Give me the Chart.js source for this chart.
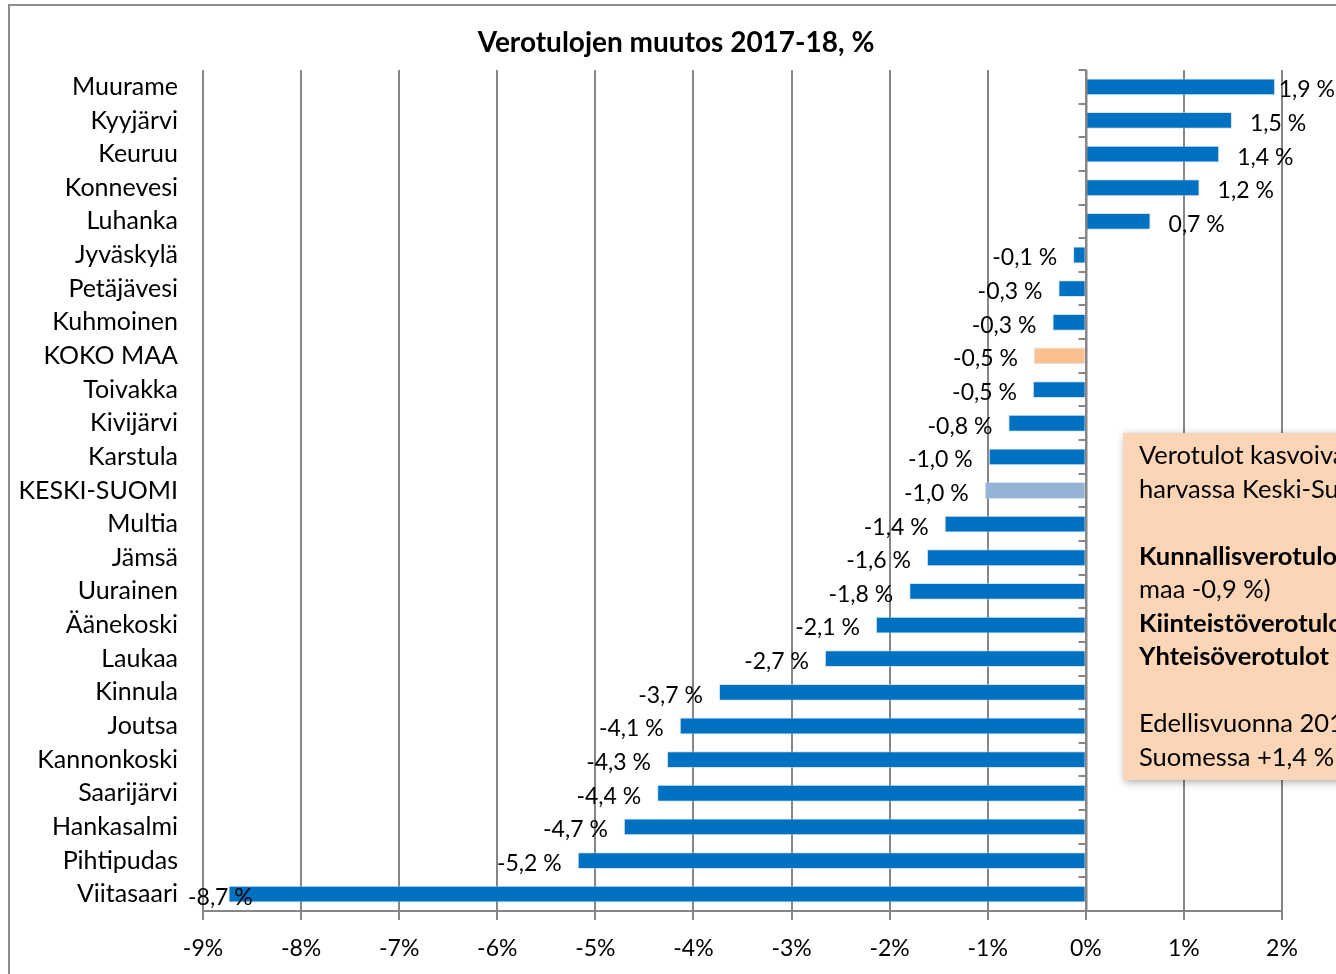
<!DOCTYPE html>
<html lang="fi">
<head>
<meta charset="UTF-8">
<title>Verotulojen muutos 2017-18, %</title>
<script src="https://cdn.jsdelivr.net/npm/chart.js"></script>
<style>
  html, body { margin: 0; padding: 0; background: #fff; overflow: hidden; }
  #wrap { position: relative; width: 1336px; height: 974px; }
</style>
</head>
<body>
<div id="wrap"><canvas id="myChart" width="1336" height="974"></canvas></div>

<script type="text/javascript">
    // data
    const categories = ['Muurame', 'Kyyjärvi', 'Keuruu', 'Konnevesi', 'Luhanka', 'Jyväskylä', 'Petäjävesi',
        'Kuhmoinen', 'KOKO MAA', 'Toivakka', 'Kivijärvi', 'Karstula', 'KESKI-SUOMI', 'Multia', 'Jämsä',
        'Uurainen', 'Äänekoski', 'Laukaa', 'Kinnula', 'Joutsa', 'Kannonkoski', 'Saarijärvi', 'Hankasalmi',
        'Pihtipudas', 'Viitasaari'];
    const changePct = [1.93, 1.49, 1.36, 1.16, 0.66, -0.13, -0.28, -0.34, -0.53, -0.54, -0.79, -0.99, -1.03,
        -1.44, -1.62, -1.80, -2.14, -2.66, -3.74, -4.14, -4.27, -4.37, -4.71, -5.18, -8.74];
    const xTicks = [-9, -8, -7, -6, -5, -4, -3, -2, -1, 0, 1, 2];

    const titleText = 'Verotulojen muutos 2017-18, %';
    const noteLines = [
        ['Verotulot kasvoivat vain', false],
        ['harvassa Keski-Suomen kunnassa.', false],
        ['', false],
        ['Kunnallisverotulot', true],
        ['maa -0,9 %)', false],
        ['Kiinteistöverotulot', true],
        ['Yhteisöverotulot', true],
        ['', false],
        ['Edellisvuonna 2016-17', false],
        ['Suomessa +1,4 %', false]
    ];

    const FONT = 'Lato, "Open Sans", sans-serif';

    const barColors = categories.map(function (c) {
        if (c === 'KOKO MAA') return '#FAC090';
        if (c === 'KESKI-SUOMI') return '#95B3D7';
        return '#0070C0';
    });

    function fmt(v) {
        return v.toFixed(1).replace('.', ',') + ' %';
    }

    // frame, title, zero axis, value labels and the note box
    const extras = {
        id: 'extras',
        beforeDraw(chart) {
            const c = chart.ctx;
            c.save();
            c.fillStyle = '#fff';
            c.fillRect(0, 0, chart.width, chart.height);
            c.strokeStyle = '#8c8c8c';
            c.lineWidth = 2;
            c.strokeRect(9, 5, 2000, 2000);
            c.restore();
        },
        afterDatasetsDraw(chart) {
            const c = chart.ctx;
            const x = chart.scales.x;
            const area = chart.chartArea;
            const zx = Math.round(x.getPixelForValue(0)) + 0.5;

            c.save();
            // vertical axis at 0 with tick marks
            c.strokeStyle = '#868686';
            c.lineWidth = 2;
            c.beginPath();
            c.moveTo(zx, area.top);
            c.lineTo(zx, area.bottom);
            const step = (area.bottom - area.top) / categories.length;
            for (let i = 0; i <= categories.length; i++) {
                const ty = Math.round(area.top + i * step);
                c.moveTo(zx - 8, ty);
                c.lineTo(zx, ty);
            }
            c.stroke();

            // value labels
            c.fillStyle = '#000';
            c.font = '23px ' + FONT;
            c.textBaseline = 'middle';
            const meta = chart.getDatasetMeta(0);
            meta.data.forEach(function (bar, i) {
                const v = changePct[i];
                const txt = fmt(v);
                const w = c.measureText(txt).width;
                let lx;
                if (v >= 0) {
                    lx = bar.x + 18;
                    if (lx + w > chart.width - 1) lx = chart.width - 1 - w;
                } else {
                    lx = bar.x - 16 - w;
                    if (lx < 188) lx = 188;
                }
                c.textAlign = 'left';
                c.fillText(txt, lx, bar.y + 3);
            });

            // title
            c.font = 'bold 28px ' + FONT;
            c.textAlign = 'center';
            c.fillText(titleText, 676, 43);

            // note box
            c.shadowColor = 'rgba(0,0,0,0.35)';
            c.shadowBlur = 8;
            c.shadowOffsetX = 2;
            c.shadowOffsetY = 2;
            c.fillStyle = '#FBD5B5';
            c.fillRect(1123, 433, 400, 347);
            c.shadowColor = 'transparent';
            c.fillStyle = '#000';
            c.textAlign = 'left';
            noteLines.forEach(function (ln, i) {
                c.font = (ln[1] ? 'bold ' : '') + '25.5px ' + FONT;
                c.fillText(ln[0], 1139, 456 + i * 33.5);
            });
            c.restore();
        }
    };

    const ctx = document.getElementById('myChart');

    let myChart = new Chart(ctx, {
        type: 'bar',
        data: {
            labels: categories,
            datasets: [{
                data: changePct,
                backgroundColor: barColors,
                borderColor: 'rgba(180,210,240,0.6)',
                borderWidth: 1,
                barPercentage: 0.5,
                categoryPercentage: 1.0
            }]
        },
        options: {
            indexAxis: 'y',
            responsive: false,
            animation: false,
            devicePixelRatio: 1,
            layout: { padding: { left: 10, top: 70, right: 54, bottom: 0 } },
            plugins: {
                legend: { display: false },
                tooltip: { enabled: false },
                title: { display: false }
            },
            scales: {
                x: {
                    min: -9,
                    max: 2,
                    afterBuildTicks(scale) {
                        scale.ticks = xTicks.map(function (v) { return { value: v }; });
                    },
                    afterFit(scale) { scale.height = 63; },
                    grid: {
                        color: '#868686',
                        lineWidth: 2,
                        tickLength: 9,
                        drawOnChartArea: true
                    },
                    border: { display: true, color: '#868686', width: 2 },
                    ticks: {
                        color: '#000',
                        font: { family: FONT, size: 23 },
                        padding: 15,
                        callback: function (v) { return v + '%'; }
                    }
                },
                y: {
                    afterFit(scale) { scale.width = 193; },
                    grid: { display: false },
                    border: { display: false },
                    ticks: {
                        color: '#000',
                        font: { family: FONT, size: 25 },
                        padding: 17,
                        autoSkip: false
                    }
                }
            }
        },
        plugins: [extras]
    });
</script>
</body>
</html>
